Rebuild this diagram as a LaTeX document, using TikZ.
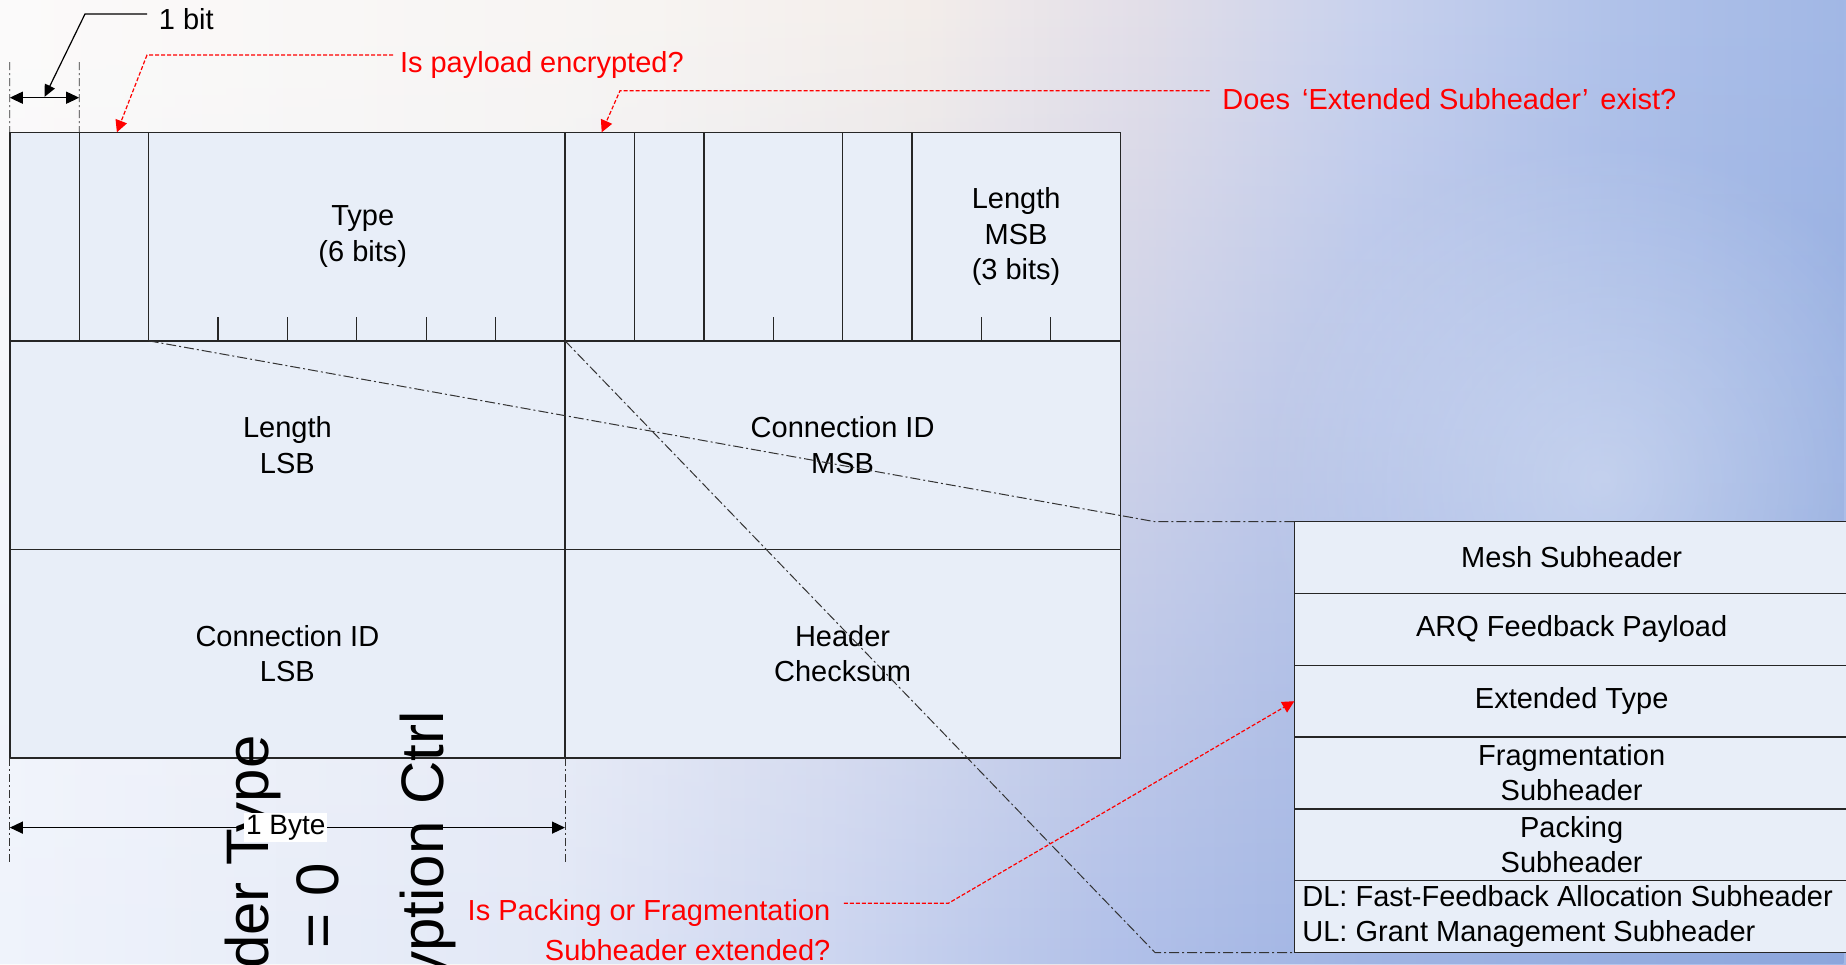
\documentclass[tikz,border=0pt]{standalone}
\usepackage{fontspec}
\setmainfont{Liberation Sans}
\usetikzlibrary{arrows.meta,fadings}

\definecolor{cellfill}{HTML}{E8EEF8}
\definecolor{lineink}{HTML}{262626}
\definecolor{tA}{HTML}{FCFBFA}
\definecolor{tB}{HTML}{F8F5F2}
\definecolor{tC}{HTML}{F4EEEA}
\definecolor{tD}{HTML}{E3DFE9}
\definecolor{tE}{HTML}{C9D2EE}
\definecolor{tF}{HTML}{B0C2EA}
\definecolor{tG}{HTML}{A2B8E6}
\definecolor{bA}{HTML}{EFF3FC}
\definecolor{bB}{HTML}{E2E8F7}
\definecolor{bC}{HTML}{CDD6F1}
\definecolor{bD}{HTML}{B2C1E9}
\definecolor{bE}{HTML}{A0B4E3}
\definecolor{bF}{HTML}{8CA6DC}

% backdrop gradients: upper band and lower band, blended vertically
\pgfdeclarehorizontalshading{skytop}{100bp}{color(0bp)=(tA); color(25bp)=(tA); color(42.5bp)=(tB); color(50bp)=(tC); color(56bp)=(tD); color(62bp)=(tE); color(69bp)=(tF); color(75bp)=(tG); color(100bp)=(tG)}
\pgfdeclarehorizontalshading{skybottom}{100bp}{color(0bp)=(bA); color(25bp)=(bA); color(40bp)=(bB); color(47.5bp)=(bC); color(55bp)=(bD); color(62bp)=(bE); color(75bp)=(bF); color(100bp)=(bF)}
\tikzfading[name=risefade, top color=transparent!100, bottom color=transparent!0]
\tikzfading[name=softglow, inner color=transparent!0, outer color=transparent!100]

\begin{document}
\begin{tikzpicture}[x=1pt,y=-1pt,
  cellfont/.style={font=\fontsize{14.5}{17.6}\selectfont},
  bigtext/.style={font=\fontsize{30}{35}\selectfont, inner sep=0pt},
  cell/.style={draw=lineink, line width=0.7pt, fill=cellfill, inner sep=0pt, outer sep=0pt, align=center, cellfont},
  topcell/.style={cell, minimum height=104.25pt},
  subcell/.style={cell, minimum width=277.35pt, minimum height=35.9pt},
  tick/.style={draw=lineink, line width=0.6pt},
  linkline/.style={draw=black!80, line width=0.5pt, dash pattern=on 5pt off 1.5pt on 1pt off 1.5pt},
  extline/.style={draw=black!80, line width=0.4pt, dash pattern=on 4pt off 1.5pt on 1pt off 1.5pt},
  dimline/.style={draw=black, line width=0.6pt, {Triangle[length=6.5pt,width=6pt]}-{Triangle[length=6.5pt,width=6pt]}},
  lead/.style={draw=black, line width=0.6pt, -{Triangle[length=6pt,width=5.5pt]}},
  redlead/.style={draw=red, line width=0.6pt, dash pattern=on 2pt off 1pt, -{Triangle[length=6pt,width=6pt]}},
  note/.style={cellfont, text=red, inner sep=0pt}
]
\useasboundingbox (0,0) rectangle (923,482);
\clip (0,0) rectangle (923,482);

% backdrop
\shade[shading=skytop] (0,0) rectangle (923,482);
\shade[shading=skybottom, path fading=risefade] (0,0) rectangle (923,482);
\fill[white, opacity=0.35, path fading=softglow] (800,240) circle (170);

% generic MAC header: first row (bit fields)
\node[topcell, minimum width=34.7pt] (ht) at (22.25,118.275) {};
\node[topcell, minimum width=34.7pt] (ec) at (56.95,118.275) {};
\node[topcell, minimum width=208.2pt] (type) at (178.4,118.275) {\hspace*{6pt}Type\\\hspace*{6pt}(6 bits)};
\node[topcell, minimum width=34.7pt] (esf) at (299.85,118.275) {};
\node[topcell, minimum width=34.7pt] (ci) at (334.55,118.275) {};
\node[topcell, minimum width=69.4pt] (eks) at (386.6,118.275) {};
\node[topcell, minimum width=34.7pt] (rsv) at (438.65,118.275) {};
\node[topcell, minimum width=104.1pt] (lenmsb) at (508.05,118.275) {Length\\MSB\\(3 bits)};

% second and third rows (bytes)
\node[topcell, minimum width=277.6pt] (lenlsb) at (143.7,222.525) {Length\\LSB};
\node[topcell, minimum width=277.6pt] (cidmsb) at (421.3,222.525) {Connection ID\\MSB};
\node[topcell, minimum width=277.6pt] (cidlsb) at (143.7,326.775) {Connection ID\\LSB};
\node[topcell, minimum width=277.6pt] (hcs) at (421.3,326.775) {Header\\Checksum};

% bit ticks inside multi-bit fields
\foreach \k in {3,4,5,6,7,11,14,15}
  \draw[tick] ({4.9+34.7*\k},158.7) -- ({4.9+34.7*\k},170.4);

% subheader stack
\node[subcell] (mesh) at (785.825,278.8) {Mesh Subheader};
\node[subcell] (arq) at (785.825,314.7) {ARQ Feedback Payload};
\node[subcell] (ext) at (785.825,350.6) {Extended Type};
\node[subcell] (frag) at (785.825,386.5) {Fragmentation\\Subheader};
\node[subcell] (pack) at (785.825,422.4) {Packing\\Subheader};
\node[subcell] (gm) at (785.825,458.3) {};
\node[cellfont, align=left, anchor=west, inner sep=0pt] (gmtext) at ([xshift=3.85pt]gm.west)
  {DL: Fast-Feedback Allocation Subheader\\UL: Grant Management Subheader};

% dash-dot links from the header bits to the subheader stack
\coordinate (kinkA) at (577.5,260.85);
\coordinate (kinkB) at (577.5,476.25);
\draw[linkline] (type.south west) -- (kinkA) -- (mesh.north west);
\draw[linkline] (esf.south west) -- (kinkB) -- (gm.south west);

% large vertical labels
\node[bigtext, rotate=90, anchor=base east] (hdrtype) at (134,367.5) {der Type};
\node[bigtext, rotate=90, anchor=base] (hdrzero) at (169.2,453) {= 0};
\node[bigtext, rotate=90, anchor=base east] (encctrl) at (221.5,355.5) {yption Ctrl};

% one-bit dimension
\coordinate (bitTopL) at (4.9,31);
\coordinate (bitTopR) at (39.6,31);
\draw[extline] (bitTopL) -- (ht.north west);
\draw[extline] (bitTopR) -- (ht.north east);
\coordinate (bitArrL) at (4.9,48.85);
\coordinate (bitArrR) at (39.6,48.85);
\draw[dimline] (bitArrL) -- (bitArrR);
\node[cellfont, anchor=base west, inner sep=0pt] (onebit) at (79.25,14.5) {1 bit};
\coordinate (onebitA) at (73.5,7);
\coordinate (bitTip) at (22.3,48.4);
\draw[lead] (onebitA) -- (42.5,7) -- (bitTip);

% one-byte dimension
\coordinate (byteBotL) at (4.9,430.8);
\coordinate (byteBotR) at (282.5,430.8);
\draw[extline] (cidlsb.south west) -- (byteBotL);
\draw[extline] (cidlsb.south east) -- (byteBotR);
\coordinate (byteArrL) at (4.9,413.8);
\coordinate (byteArrR) at (282.5,413.8);
\draw[dimline] (byteArrL) -- (byteArrR);
\node[fill=white, inner sep=1pt, font=\fontsize{14}{16}\selectfont] (bytelbl) at (142.9,413.8) {1 Byte};

% red questions
\node[note, anchor=base west] (encq) at (199.8,36.35) {Is payload encrypted?};
\coordinate (encqA) at (196.5,27.5);
\draw[redlead] (encqA) -- (73.5,27.5) -- ([xshift=1.5pt]ec.north);

\node[note, anchor=base west] (extq) at (611,54.5) {Does\hspace{6pt}‘Extended Subheader’\hspace{6pt}exist?};
\coordinate (extqA) at (604.85,45.35);
\draw[redlead] (extqA) -- (310,45.35) -- ([xshift=1pt]esf.north);

\node[note, align=right, anchor=base east, font=\fontsize{14.5}{20.3}\selectfont] (packq) at (415.4,480.3)
  {Is Packing or Fragmentation\\Subheader extended?};
\coordinate (packqA) at (421.9,451.65);
\draw[redlead] (packqA) -- (474.15,451.65) -- (ext.west);
\end{tikzpicture}
\end{document}
